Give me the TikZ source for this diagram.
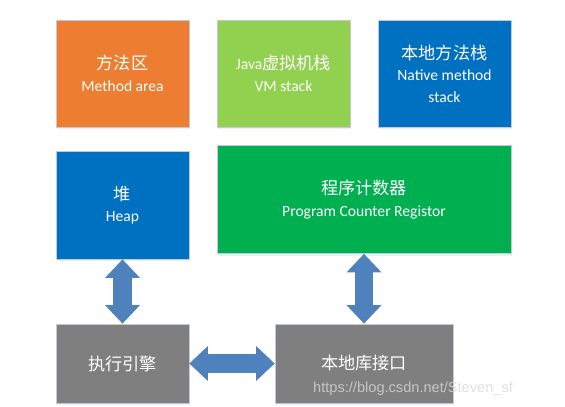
\documentclass[tikz,border=0pt]{standalone}
\usepackage{fontspec}
\setmainfont{Carlito}
\newfontfamily\cjk[Scale=1.1]{Noto Sans CJK SC}
\newfontfamily\wmfont{Liberation Sans}
\usetikzlibrary{arrows.meta,shadows}

\definecolor{orangebox}{HTML}{ED7D31}
\definecolor{limebox}{HTML}{92D050}
\definecolor{bluebox}{HTML}{0070C0}
\definecolor{greenbox}{HTML}{00B050}
\definecolor{graybox}{HTML}{7F7F7F}
\definecolor{arrowblue}{HTML}{4F81BD}
\definecolor{edgegray}{HTML}{C3CAD4}
\definecolor{markgray}{HTML}{D8D8D8}

\tikzset{
  area/.style={draw=edgegray,line width=0.8pt,text=white,align=center,inner sep=0pt,
    font=\fontsize{15.6}{21.5}\selectfont,
    drop shadow={shadow xshift=0.6pt,shadow yshift=-2pt,opacity=0.12,fill=arrowblue}},
  bigarrow/.style={arrowblue,line width=18.5pt,
    {Triangle[width=35pt,length=18.5pt,line width=0pt]}-{Triangle[width=35pt,length=18.5pt,line width=0pt]}}
}

\begin{document}
\begin{tikzpicture}[x=1pt,y=-1pt]
\useasboundingbox (0,0) rectangle (565,407);

\node [area,fill=orangebox,minimum width=133pt,minimum height=107pt] (meth) at (122.5,73.5) {{\cjk 方法区}\\Method area};
\node [area,fill=limebox,minimum width=133pt,minimum height=107pt] (vmst) at (283.5,73.5) {Java{\cjk 虚拟机栈}\\VM stack};
\node [area,fill=bluebox,minimum width=133pt,minimum height=107pt] (natst) at (444.5,73.5) {{\cjk 本地方法栈}\\Native method\\stack};

\node [area,fill=bluebox,minimum width=133pt,minimum height=108pt] (heap) at (122.5,205) {{\cjk 堆}\\Heap};
\node [area,fill=greenbox,minimum width=294pt,minimum height=108pt] (pc) at (364,199.5) {{\cjk 程序计数器}\\Program Counter Registor};

\node [area,fill=graybox,minimum width=133pt,minimum height=79pt] (engine) at (122.5,363.5) {\cjk 执行引擎};
\node [area,fill=graybox,minimum width=178pt,minimum height=79pt] (native) at (364,363.5) {\cjk 本地库接口};

\draw [bigarrow] (heap) -- (engine);
\draw [bigarrow] (pc) -- (native);
\draw [bigarrow] (engine) -- (native);

\node [anchor=base west,inner sep=0pt,text=markgray,opacity=0.8,font=\wmfont\fontsize{14.6}{16}\selectfont] (mark) at (313,392) {https://blog.csdn.net/Steven\_sf};
\end{tikzpicture}
\end{document}
